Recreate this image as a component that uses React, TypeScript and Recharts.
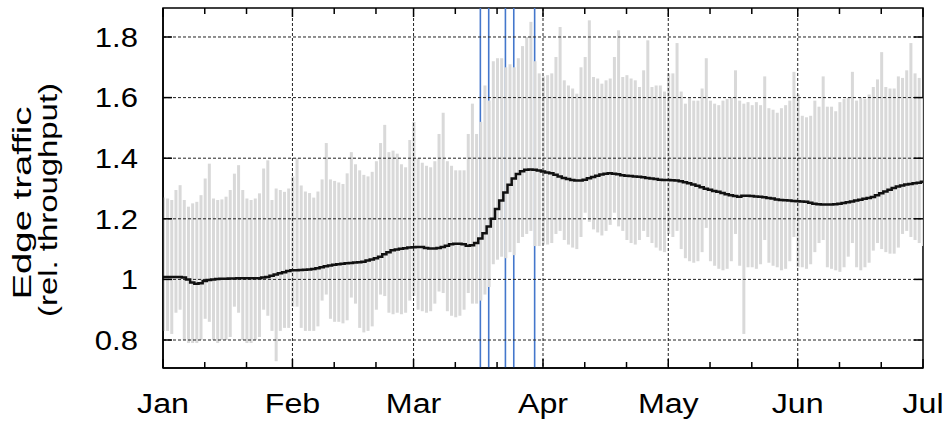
import React from 'react';
import {
    ComposedChart, Bar, Line, XAxis, YAxis, CartesianGrid, ReferenceLine, ReferenceArea
} from 'recharts';

// x is the day of the year (0 = Jan 1, 182 = Jul 1)
const monthLabels = ['Jan', 'Feb', 'Mar', 'Apr', 'May', 'Jun', 'Jul'];
const monthStartDays = [0, 31, 60, 91, 121, 152, 182];
const minorTickDays = [10, 20, 41, 51, 70, 80, 101, 111, 131, 141, 162, 172];
const yTicks = [0.8, 1, 1.2, 1.4, 1.6, 1.8];
const eventDays = [76, 78, 82, 84, 89];

// daily max of relative throughput
const dailyHigh = [
    1.27, 1.267, 1.262, 1.295, 1.311, 1.262, 1.24, 1.251, 1.256, 1.278, 1.333, 1.382, 1.267, 1.262, 1.264, 1.273,
    1.295, 1.349, 1.377, 1.295, 1.267, 1.262, 1.267, 1.284, 1.366, 1.393, 1.262, 1.30, 1.295, 1.289, 1.30,
    1.34, 1.40, 1.31, 1.29, 1.285, 1.27, 1.29, 1.33, 1.45, 1.33, 1.325, 1.32, 1.315, 1.35, 1.42, 1.38,
    1.36, 1.345, 1.34, 1.355, 1.39, 1.45, 1.51, 1.42, 1.425, 1.415, 1.38, 1.37, 1.46,
    1.52, 1.40, 1.385, 1.375, 1.37, 1.39, 1.48, 1.55, 1.39, 1.375, 1.36, 1.36, 1.36, 1.48, 1.58, 1.48,
    1.52, 1.64, 1.59, 1.72, 1.73, 1.73, 1.70, 1.71, 1.70, 1.73, 1.77, 1.80, 1.85, 1.72, 1.68,
    1.67, 1.674, 1.68, 1.734, 1.833, 1.657, 1.64, 1.63, 1.613, 1.70, 1.734, 1.855, 1.668, 1.663, 1.646,
    1.657, 1.663, 1.734, 1.822, 1.668, 1.674, 1.663, 1.657, 1.635, 1.69, 1.789, 1.635, 1.64, 1.64, 1.62,
    1.68, 1.68, 1.78, 1.62, 1.58, 1.60, 1.59, 1.59, 1.63, 1.73, 1.59, 1.58, 1.575, 1.59, 1.595, 1.60,
    1.69, 1.59, 1.58, 1.585, 1.575, 1.585, 1.575, 1.67, 1.565, 1.56, 1.55, 1.565, 1.575, 1.59, 1.685,
    1.61, 1.54, 1.535, 1.54, 1.59, 1.57, 1.67, 1.57, 1.57, 1.555, 1.585, 1.595, 1.60, 1.685, 1.59, 1.60,
    1.595, 1.61, 1.635, 1.66, 1.75, 1.635, 1.63, 1.63, 1.67, 1.665, 1.69, 1.78, 1.68, 1.665, 1.60,
];

// daily min
const dailyLow = [
    0.83, 0.83, 0.82, 0.89, 0.90, 0.80, 0.79, 0.79, 0.79, 0.80, 0.87, 0.86, 0.80, 0.79, 0.80, 0.80,
    0.81, 0.91, 0.89, 0.80, 0.79, 0.79, 0.80, 0.81, 0.90, 0.88, 0.83, 0.73, 0.83, 0.84, 0.84,
    0.91, 0.91, 0.84, 0.83, 0.83, 0.83, 0.845, 0.93, 0.95, 0.87, 0.86, 0.86, 0.855, 0.865, 0.94, 0.92,
    0.84, 0.825, 0.83, 0.845, 0.90, 0.95, 0.945, 0.89, 0.885, 0.89, 0.885, 0.89, 0.93,
    0.945, 0.90, 0.895, 0.89, 0.895, 0.92, 0.96, 0.955, 0.895, 0.88, 0.875, 0.88, 0.90, 0.955, 0.92, 0.92,
    0.93, 0.95, 0.975, 1.05, 1.065, 1.075, 1.07, 1.09, 1.08, 1.12, 1.14, 1.15, 1.16, 1.11, 1.11,
    1.115, 1.115, 1.12, 1.15, 1.16, 1.13, 1.115, 1.105, 1.10, 1.14, 1.22, 1.19, 1.165, 1.155, 1.145,
    1.16, 1.18, 1.22, 1.175, 1.16, 1.13, 1.12, 1.115, 1.13, 1.16, 1.14, 1.12, 1.105, 1.095, 1.09,
    1.15, 1.14, 1.16, 1.10, 1.07, 1.06, 1.055, 1.06, 1.09, 1.17, 1.06, 1.045, 1.035, 1.03, 1.035, 1.06,
    1.15, 1.045, 0.82, 1.04, 1.04, 1.035, 1.05, 1.13, 1.055, 1.045, 1.04, 1.03, 1.035, 1.06, 1.14,
    1.04, 1.04, 1.035, 1.05, 1.09, 1.12, 1.13, 1.04, 1.035, 1.03, 1.025, 1.04, 1.075, 1.12, 1.04, 1.03,
    1.04, 1.055, 1.095, 1.12, 1.10, 1.09, 1.085, 1.085, 1.105, 1.15, 1.16, 1.14, 1.13, 1.12, 1.11,
];

// weekly moving average
const dailyMean = [
    1.008, 1.008, 1.008, 1.008, 1.008, 1.006, 1.0, 0.99, 0.986, 0.987, 0.995, 0.998, 1.0, 1.001, 1.002, 1.002,
    1.003, 1.003, 1.004, 1.004, 1.004, 1.004, 1.004, 1.004, 1.006, 1.008, 1.012, 1.016, 1.02, 1.024, 1.028,
    1.03, 1.03, 1.031, 1.032, 1.033, 1.034, 1.037, 1.04, 1.043, 1.046, 1.048, 1.05, 1.052, 1.053, 1.054, 1.056,
    1.057, 1.058, 1.062, 1.066, 1.07, 1.075, 1.083, 1.09, 1.096, 1.099, 1.101, 1.103, 1.105,
    1.106, 1.107, 1.107, 1.104, 1.102, 1.102, 1.104, 1.107, 1.111, 1.116, 1.118, 1.118, 1.116, 1.111, 1.113, 1.12,
    1.135, 1.152, 1.175, 1.20, 1.232, 1.26, 1.287, 1.312, 1.333, 1.348, 1.357, 1.362, 1.363, 1.362, 1.359,
    1.356, 1.353, 1.35, 1.345, 1.34, 1.335, 1.331, 1.328, 1.326, 1.326, 1.329, 1.334, 1.338, 1.342, 1.346,
    1.349, 1.35, 1.349, 1.347, 1.344, 1.342, 1.341, 1.34, 1.339, 1.337, 1.335, 1.333, 1.331, 1.329, 1.328,
    1.328, 1.327, 1.326, 1.324, 1.321, 1.317, 1.313, 1.309, 1.304, 1.299, 1.296, 1.292, 1.289, 1.285, 1.281, 1.278,
    1.275, 1.273, 1.276, 1.276, 1.275, 1.274, 1.273, 1.271, 1.269, 1.267, 1.264, 1.262, 1.261, 1.26, 1.259,
    1.258, 1.257, 1.256, 1.253, 1.25, 1.248, 1.247, 1.247, 1.247, 1.248, 1.25, 1.252, 1.255, 1.257, 1.26, 1.263,
    1.266, 1.269, 1.272, 1.278, 1.284, 1.29, 1.296, 1.302, 1.307, 1.31, 1.313, 1.315, 1.317, 1.319, 1.322,
];

const data = dailyHigh.map((hi, day) => ({ day, range: [dailyLow[day], hi], mean: dailyMean[day] }));

const Y_MIN = 0.7076;
const Y_MAX = 1.8957;
const PLOT_W = 760;
const PLOT_H = 360;
const FONT = '"Liberation Sans", Arial, Helvetica, sans-serif';

const XTick = (props: any) => {
    const { x, y, payload } = props;
    const idx = monthStartDays.indexOf(payload.value);
    const len = idx >= 0 ? 9 : 6;
    return (
        <g>
            <line x1={x} y1={y} x2={x} y2={y - len} stroke="#000" strokeWidth={1.5} />
            <line x1={x} y1={y - PLOT_H} x2={x} y2={y - PLOT_H + len} stroke="#000" strokeWidth={1.5} />
            {idx >= 0 && (
                <text transform={`translate(${x},${y + 45}) scale(1.15,1)`} textAnchor="middle"
                    fontSize={28} fontFamily={FONT} fill="#000">{monthLabels[idx]}</text>
            )}
        </g>
    );
};

const YTick = (props: any) => {
    const { x, y, payload } = props;
    return (
        <g>
            <line x1={x} y1={y} x2={x + 9} y2={y} stroke="#000" strokeWidth={1.5} />
            <line x1={x + PLOT_W - 9} y1={y} x2={x + PLOT_W} y2={y} stroke="#000" strokeWidth={1.5} />
            <text transform={`translate(${x - 25},${y}) scale(1.15,1)`} textAnchor="end" dy="0.36em"
                fontSize={27} fontFamily={FONT} fill="#000">{String(payload.value)}</text>
        </g>
    );
};

const AxisTitle = () => (
    <g fontFamily={FONT} fontSize={26} fill="#000">
        <text transform="translate(31,203) rotate(-90)" textAnchor="middle"
            textLength={193} lengthAdjust="spacingAndGlyphs">Edge traffic</text>
        <text transform="translate(57,200) rotate(-90)" textAnchor="middle"
            textLength={234} lengthAdjust="spacingAndGlyphs">(rel. throughput)</text>
    </g>
);

export default function App() {
    return (
        <div style={{ position: 'absolute', left: 0, top: 0, width: 950, height: 424, background: '#fff' }}>
            <ComposedChart width={950} height={424} data={data} margin={{ top: 8, right: 27, bottom: 0, left: 0 }}>
                <CartesianGrid stroke="#222" strokeDasharray="3 2" strokeWidth={1}
                    verticalValues={monthStartDays.slice(1, -1)} horizontalValues={yTicks} zIndex={350} />
                {eventDays.map((d) => (
                    <ReferenceLine key={d} x={d} stroke="#4477cc" strokeWidth={1.6} zIndex={250} />
                ))}
                <XAxis dataKey="day" type="number" domain={[0, 182]} allowDataOverflow
                    ticks={[...monthStartDays, ...minorTickDays].sort((a, b) => a - b)} interval={0}
                    tickLine={false} tickSize={0} tickMargin={0} tick={<XTick />} height={56}
                    axisLine={{ stroke: '#000', strokeWidth: 1.5 }} />
                <YAxis type="number" domain={[Y_MIN, Y_MAX]} allowDataOverflow ticks={yTicks} interval={0}
                    tickLine={false} tickSize={0} tickMargin={0} tick={<YTick />} width={163}
                    axisLine={{ stroke: '#000', strokeWidth: 1.5 }} label={<AxisTitle />} />
                <Bar dataKey="range" fill="#d9d9d9" barSize={3} isAnimationActive={false} />
                <Line dataKey="mean" type="step" stroke="#111" strokeWidth={2.5} dot={false}
                    isAnimationActive={false} />
                <ReferenceArea x1={0} x2={182} y1={Y_MIN} y2={Y_MAX} fill="none" stroke="#000"
                    strokeWidth={1.5} ifOverflow="visible" />
            </ComposedChart>
        </div>
    );
}
